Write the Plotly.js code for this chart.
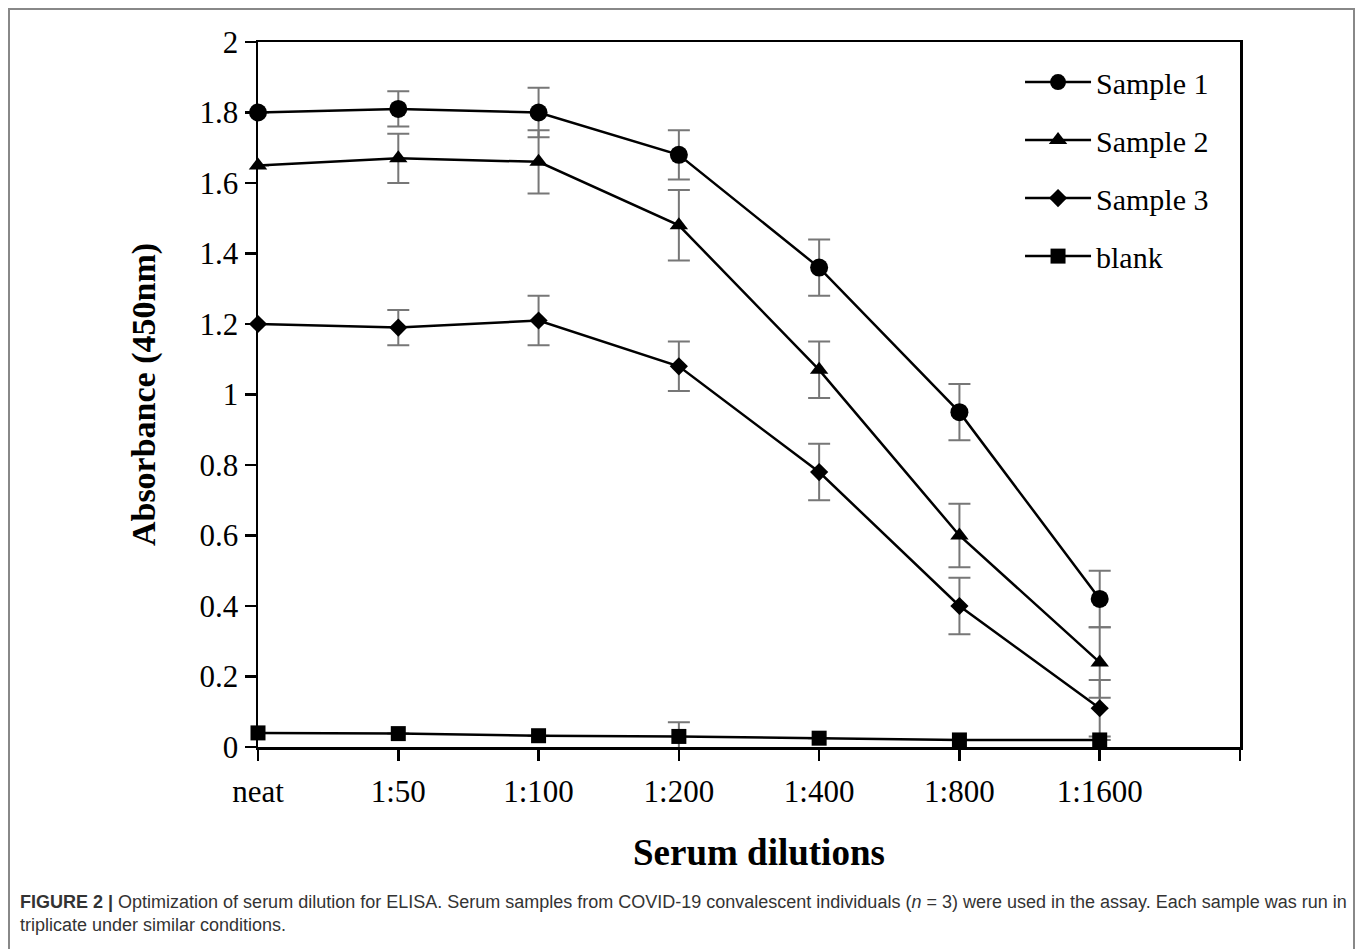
<!DOCTYPE html>
<html>
<head>
<meta charset="utf-8">
<script src="https://cdn.plot.ly/plotly-3.0.1.min.js"></script>
<style>
html,body{margin:0;padding:0;background:#fff;}
#frame{position:absolute;left:8px;top:8px;width:1347px;height:960px;border:2px solid #888;box-sizing:border-box;}
#chart{position:absolute;left:0;top:0;width:1357px;height:949px;}
</style>
</head>
<body>
<div id="frame"></div>
<div id="chart"></div>
<script>
const categories = ['neat', '1:50', '1:100', '1:200', '1:400', '1:800', '1:1600'];
const sample1 = [1.80, 1.81, 1.80, 1.68, 1.36, 0.95, 0.42];
const sample1Err = [0, 0.05, 0.07, 0.07, 0.08, 0.08, 0.08];
const sample2 = [1.65, 1.67, 1.66, 1.48, 1.07, 0.60, 0.24];
const sample2Err = [0, 0.07, 0.09, 0.10, 0.08, 0.09, 0.10];
const sample3 = [1.20, 1.19, 1.21, 1.08, 0.78, 0.40, 0.11];
const sample3Err = [0, 0.05, 0.07, 0.07, 0.08, 0.08, 0.08];
const blank = [0.04, 0.038, 0.032, 0.03, 0.025, 0.02, 0.02];
const blankErr = [0, 0, 0, 0.04, 0, 0, 0];
const seriesNames = ['Sample 1', 'Sample 2', 'Sample 3', 'blank'];
const yTicks = [0, 0.2, 0.4, 0.6, 0.8, 1, 1.2, 1.4, 1.6, 1.8, 2];

const xIdx = categories.map((c, i) => i);
const symbols = ['circle', 'triangle-up', 'diamond', 'square'];
const sizes = [18, 16, 14, 15];
const vals = [sample1, sample2, sample3, blank];
const errs = [sample1Err, sample2Err, sample3Err, blankErr];

const traces = vals.map((v, k) => ({
  type: 'scatter', mode: 'lines+markers', name: seriesNames[k],
  legendgroup: 'g' + k,
  x: xIdx, y: v,
  line: {color: '#000', width: 2.5},
  marker: {symbol: symbols[k], size: sizes[k], color: '#000'},
  error_y: {type: 'data', array: errs[k], visible: true, color: '#777', thickness: 2, width: 11},
  cliponaxis: false
}));

const serif = 'Liberation Serif, Times New Roman, serif';
const layout = {
  width: 1357, height: 949,
  margin: {l: 258, r: 117, t: 42, b: 202},
  paper_bgcolor: 'rgba(0,0,0,0)', plot_bgcolor: '#fff',
  showlegend: true,
  legend: {x: 0.776, y: 0.98, xanchor: 'left', yanchor: 'top',
           font: {family: serif, size: 30, color: '#000'},
           bgcolor: 'rgba(0,0,0,0)', tracegroupgap: 16, itemwidth: 66},
  xaxis: {
    range: [0, 7], tickmode: 'array',
    tickvals: xIdx.concat([7]), ticktext: categories.concat(['']),
    ticks: 'outside', ticklen: 11, tickwidth: 2.5, tickcolor: '#000',
    ticklabelstandoff: 4,
    showline: true, linecolor: '#000', linewidth: 2.5, mirror: true,
    showgrid: false, zeroline: false,
    tickfont: {family: serif, size: 31, color: '#000'}
  },
  yaxis: {
    range: [0, 2], tickmode: 'array', tickvals: yTicks,
    ticktext: yTicks.map(t => String(t)),
    ticks: 'outside', ticklen: 11, tickwidth: 2.5, tickcolor: '#000',
    showline: true, linecolor: '#000', linewidth: 2.5, mirror: true,
    showgrid: false, zeroline: false,
    tickfont: {family: serif, size: 31, color: '#000'},
    title: {text: '<b>Absorbance (450nm)</b>', font: {family: serif, size: 34, color: '#000'}, standoff: 34}
  },
  annotations: [{
    xref: 'paper', yref: 'paper', x: 0.510, y: -0.150, xanchor: 'center', yanchor: 'middle',
    showarrow: false,
    font: {family: serif, size: 37, color: '#000'},
    text: '<b>Serum dilutions</b>'
  }, {
    xref: 'paper', yref: 'paper', x: -0.2444, y: -0.203, xanchor: 'left', yanchor: 'top', align: 'left',
    showarrow: false,
    font: {family: 'Liberation Sans, Arial, sans-serif', size: 18, color: '#333'},
    text: '<b>FIGURE 2 |</b> Optimization of serum dilution for ELISA. Serum samples from COVID-19 convalescent individuals (<i>n</i> = 3) were used in the assay. Each sample was run in<br>triplicate under similar conditions.'
  }]
};

Plotly.newPlot('chart', traces, layout, {displayModeBar: false, staticPlot: true});
</script>
</body>
</html>
